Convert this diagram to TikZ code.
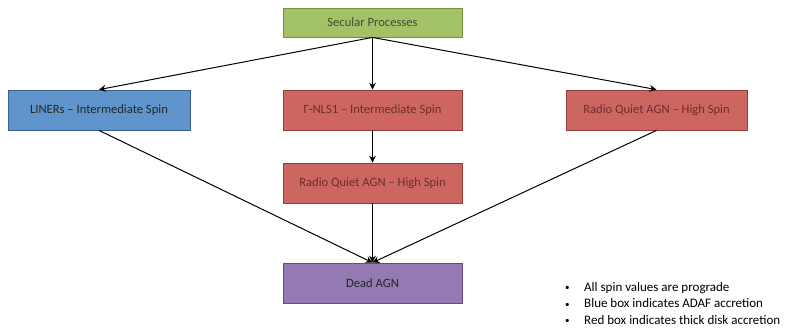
\documentclass[tikz,border=0pt]{standalone}
\usepackage{fontspec}
\setmainfont{Carlito}
\usetikzlibrary{arrows.meta}
\definecolor{gfill}{RGB}{163,193,102}
\definecolor{gdraw}{RGB}{118,146,60}
\definecolor{bfill}{RGB}{96,148,204}
\definecolor{bdraw}{RGB}{60,96,140}
\definecolor{rfill}{RGB}{205,102,96}
\definecolor{rdraw}{RGB}{150,60,58}
\definecolor{pfill}{RGB}{147,122,178}
\definecolor{pdraw}{RGB}{100,78,128}
\definecolor{gtext}{RGB}{70,78,50}
\definecolor{rtext}{RGB}{110,45,45}
\newcommand{\mybul}{\makebox[19pt][l]{\raisebox{0.5pt}{\fontsize{9}{9}\selectfont •}}}
\begin{document}
\begin{tikzpicture}[x=1pt,y=-1pt,
  box/.style={draw, line width=0.8pt, minimum width=179pt, minimum height=40pt, inner sep=0pt, font=\fontsize{12.6}{14}\selectfont},
  gbox/.style={box, fill=gfill, draw=gdraw, text=gtext, minimum height=29pt},
  bbox/.style={box, fill=bfill, draw=bdraw, text=black!85},
  rbox/.style={box, fill=rfill, draw=rdraw, text=rtext},
  pbox/.style={box, fill=pfill, draw=pdraw, text=black!85},
  arr/.style={-{Stealth[length=7pt,width=7pt,inset=2.5pt]}, line width=1pt, black}]
\useasboundingbox (0,0) rectangle (793,333);
\node[gbox] (sec) at (372.5,22.5) {Secular Processes};
\node[bbox, minimum width=182pt] (lin) at (99,110) {LINERs – Intermediate Spin};
\node[rbox] (nls) at (372.5,110) {Γ-NLS1 – Intermediate Spin};
\node[rbox, minimum width=181pt] (rqr) at (656.5,110) {Radio Quiet AGN – High Spin};
\node[rbox] (rqm) at (372.5,183) {Radio Quiet AGN – High Spin};
\node[pbox] (dead) at (372.5,283) {Dead AGN};
\draw[arr] (sec.south) -- (lin.north);
\draw[arr] (sec.south) -- (nls.north);
\draw[arr] (sec.south) -- (rqr.north);
\draw[arr] (nls.south) -- (rqm.north);
\draw[arr] (rqm.south) -- (dead.north);
\draw[arr] (lin.south) -- (dead.north);
\draw[arr] (rqr.south) -- (dead.north);
\node[anchor=west, font=\fontsize{13}{16.5}\selectfont, align=left, inner sep=0pt] (notes) at (565,303.5) {%
\mybul All spin values are prograde\\
\mybul Blue box indicates ADAF accretion\\
\mybul Red box indicates thick disk accretion};
\end{tikzpicture}
\end{document}
